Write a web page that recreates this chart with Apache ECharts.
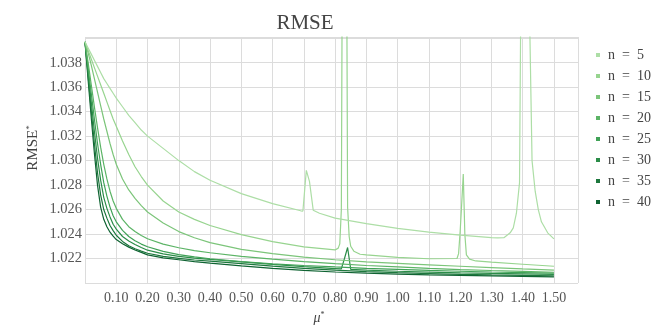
<!DOCTYPE html>
<html>
<head>
<meta charset="utf-8">
<script src="https://cdn.jsdelivr.net/npm/echarts@6/dist/echarts.min.js"></script>
<style>
  html, body { margin: 0; padding: 0; background: #fff; }
  #chart { width: 656px; height: 327px; }
</style>
</head>
<body>
<div id="chart"></div>
<script>
// shared mu* grid for the smooth part of every curve
const mu = [0, 0.01, 0.02, 0.03, 0.04, 0.05, 0.06, 0.07, 0.08, 0.09, 0.10, 0.12, 0.14, 0.16, 0.18, 0.20,
  0.25, 0.30, 0.35, 0.40, 0.50, 0.60, 0.70, 0.80, 0.90, 1.00, 1.10, 1.20, 1.30, 1.40, 1.50];

const rmse5 = [1.0397, 1.0392, 1.0387, 1.0382, 1.0377, 1.0372, 1.0367, 1.0363, 1.0359, 1.0355, 1.0351, 1.0344, 1.0337, 1.0331, 1.0325, 1.0320,
  1.0310, 1.0300, 1.0291, 1.0284, 1.0273, 1.02648, 1.02583, 1.0253, 1.02485, 1.02447, 1.02416, 1.02391, 1.02371, 1.02355, 1.0234];
const rmse10 = [1.0397, 1.0390, 1.0383, 1.0376, 1.0369, 1.0362, 1.0355, 1.0348, 1.0341, 1.0334, 1.0328, 1.0316, 1.0305, 1.0295, 1.0287, 1.0280,
  1.0267, 1.0258, 1.0252, 1.0247, 1.02395, 1.02338, 1.02295, 1.0227, 1.0223, 1.0221, 1.02198, 1.02188, 1.0217, 1.02153, 1.02137];
const rmse15 = [1.0397, 1.0388, 1.0378, 1.0367, 1.0356, 1.0345, 1.0334, 1.0324, 1.0314, 1.0305, 1.0297, 1.0285, 1.0276, 1.02692, 1.02632, 1.0258,
  1.0249, 1.0242, 1.0237, 1.0233, 1.02275, 1.0224, 1.02212, 1.0219, 1.02172, 1.0216, 1.02148, 1.02137, 1.02126, 1.02115, 1.02105];
const rmse20 = [1.0397, 1.0380, 1.0362, 1.0344, 1.0327, 1.0311, 1.0297, 1.0285, 1.0275, 1.0267, 1.0261, 1.0252, 1.0246, 1.0242, 1.02388, 1.02362,
  1.02318, 1.02288, 1.02265, 1.02247, 1.02218, 1.02195, 1.02175, 1.02158, 1.02143, 1.02131, 1.0212, 1.0211, 1.02102, 1.02095, 1.02088];
const rmse25 = [1.0397, 1.0376, 1.0355, 1.0334, 1.0314, 1.0297, 1.0282, 1.0271, 1.0262, 1.0255, 1.0250, 1.0243, 1.0238, 1.02345, 1.02318, 1.02296,
  1.02258, 1.02232, 1.02213, 1.02198, 1.02175, 1.02157, 1.02143, 1.02131, 1.0212, 1.02111, 1.02103, 1.02096, 1.0209, 1.02085, 1.0208];
const rmse30 = [1.0397, 1.0372, 1.0348, 1.0324, 1.0302, 1.0284, 1.0270, 1.0261, 1.0254, 1.0248, 1.0244, 1.0238, 1.02343, 1.02315, 1.0229, 1.02268,
  1.02238, 1.02218, 1.02204, 1.02193, 1.02172, 1.02152, 1.02134, 1.02118, 1.02105, 1.02096, 1.02089, 1.02083, 1.02078, 1.02074, 1.0207];
const rmse35 = [1.0397, 1.0369, 1.0341, 1.0314, 1.0290, 1.0272, 1.0260, 1.0253, 1.0247, 1.02428, 1.0239, 1.0234, 1.02305, 1.0228, 1.0226, 1.02243,
  1.02218, 1.02201, 1.02188, 1.02178, 1.02158, 1.02138, 1.0212, 1.02105, 1.02093, 1.02084, 1.02077, 1.02071, 1.02066, 1.02062, 1.02058];
const rmse40 = [1.0397, 1.0366, 1.0335, 1.0306, 1.0280, 1.0262, 1.0252, 1.0246, 1.02415, 1.02383, 1.02355, 1.0232, 1.02293, 1.0227, 1.0225, 1.0223,
  1.02205, 1.0219, 1.02175, 1.02162, 1.0214, 1.0212, 1.02103, 1.0209, 1.0208, 1.02073, 1.02067, 1.02062, 1.02058, 1.02054, 1.0205];

// resonance spikes, [mu*, rmse*] pairs that replace the grid points they span
const spike5a = [[0.69, 1.0259], [0.697, 1.02588], [0.708, 1.0292], [0.718, 1.0283], [0.73, 1.02595], [0.75, 1.0257]];
const spike5b = [[1.32, 1.02368], [1.34, 1.0237], [1.36, 1.0241], [1.37, 1.0245], [1.38, 1.0257], [1.39, 1.0282], [1.40, 1.065],
  [1.41, 1.2], [1.42, 1.045], [1.43, 1.030], [1.44, 1.0275], [1.45, 1.0260], [1.46, 1.0250], [1.48, 1.0241], [1.50, 1.0236]];
const spike10a = [[0.80, 1.0227], [0.81, 1.02285], [0.815, 1.0232], [0.82, 1.026], [0.825, 1.06], [0.83, 1.3], [0.835, 1.06],
  [0.84, 1.0262], [0.845, 1.0238], [0.85, 1.0230], [0.86, 1.0226], [0.88, 1.02235]];
const spike10b = [[1.19, 1.0220], [1.195, 1.0224], [1.20, 1.0242], [1.205, 1.0265], [1.21, 1.0289], [1.215, 1.0240],
  [1.22, 1.0223], [1.23, 1.02195], [1.25, 1.0218]];
const spike30 = [[0.82, 1.02115], [0.83, 1.0220], [0.84, 1.0229], [0.85, 1.02112]];

const names = ["n = 5", "n = 10", "n = 15", "n = 20", "n = 25", "n = 30", "n = 35", "n = 40"];
const colors = ["#addea6", "#97d48f", "#7cc57a", "#5cb466", "#40a257", "#2b8c48", "#1d773d", "#0f6332"];
const curves = [rmse5, rmse10, rmse15, rmse20, rmse25, rmse30, rmse35, rmse40];
const spikes = [[spike5a, spike5b], [spike10a, spike10b], [], [], [], [spike30], [], []];

const buildData = (vals, extra) => {
  let pts = mu.map((x, i) => [x, vals[i]]);
  extra.forEach((sp) => {
    const lo = sp[0][0], hi = sp[sp.length - 1][0];
    pts = pts.filter((p) => p[0] < lo || p[0] > hi).concat(sp);
  });
  return pts.sort((a, b) => a[0] - b[0]);
};

const font = "'Liberation Serif', 'DejaVu Serif', serif";
const chart = echarts.init(document.getElementById("chart"));

chart.setOption({
  animation: false,
  backgroundColor: "#fff",
  title: {
    text: "RMSE",
    left: 300,
    textAlign: "center",
    top: 8,
    textStyle: { fontFamily: font, fontSize: 21, fontWeight: "normal", color: "#444" },
  },
  legend: {
    data: names.map((name) => ({ name, icon: "rect" })),
    orient: "vertical",
    left: 591,
    top: 42,
    itemWidth: 4,
    itemHeight: 4,
    itemGap: 5,
    formatter: (name) => name.replace(/ /g, "\u2002"),
    textStyle: { fontFamily: font, fontSize: 14, lineHeight: 16, color: "#444", padding: [0, 0, 0, 3] },
  },
  grid: { left: 85, right: 78, top: 37, bottom: 44 },
  xAxis: {
    type: "value",
    min: 0,
    max: 1.577,
    interval: 0.1,
    axisLine: { show: false },
    axisTick: { show: false },
    splitLine: { lineStyle: { color: "#dcdcdc" } },
    axisLabel: {
      fontFamily: font,
      fontSize: 14,
      color: "#555",
      margin: 8,
      showMinLabel: false,
      formatter: (v) => (v < 0.05 || v > 1.55 ? "" : v.toFixed(2)),
    },
  },
  yAxis: {
    type: "value",
    min: 1.02,
    max: 1.0401,
    interval: 0.002,
    axisLine: { show: false },
    axisTick: { show: false },
    splitLine: { lineStyle: { color: "#dcdcdc" } },
    axisLabel: {
      fontFamily: font,
      fontSize: 14.5,
      color: "#555",
      margin: 3,
      formatter: (v) => (v < 1.021 || v > 1.039 ? "" : v.toFixed(3)),
    },
  },
  graphic: [
    {
      type: "text",
      x: 33,
      y: 148,
      rotation: Math.PI / 2,
      style: {
        text: "{a|RMSE}{s|*}",
        align: "center",
        verticalAlign: "middle",
        rich: {
          a: { fontFamily: font, fontSize: 15, fill: "#444" },
          s: { fontFamily: font, fontSize: 9, fill: "#444", verticalAlign: "top" },
        },
      },
    },
    {
      type: "text",
      x: 319,
      y: 318,
      style: {
        text: "{a|μ}{s|*}",
        align: "center",
        verticalAlign: "middle",
        rich: {
          a: { fontFamily: font, fontSize: 14, fontStyle: "italic", fill: "#444" },
          s: { fontFamily: font, fontSize: 8, fill: "#444", verticalAlign: "top" },
        },
      },
    },
  ],
  series: curves.map((vals, i) => ({
    name: names[i],
    type: "line",
    data: buildData(vals, spikes[i]),
    showSymbol: false,
    clip: true,
    z: 10 - i,
    color: colors[i],
    lineStyle: { width: 1.2, color: colors[i] },
  })),
});
</script>
</body>
</html>
